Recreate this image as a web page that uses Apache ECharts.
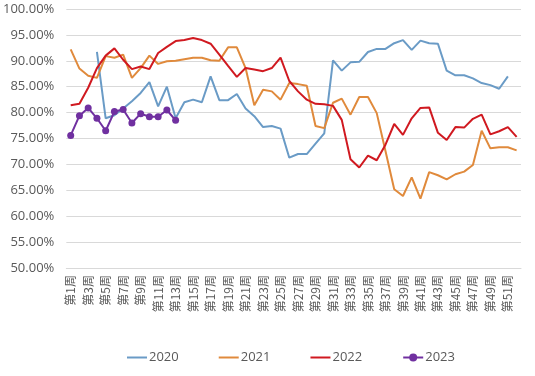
<!DOCTYPE html>
<html>
<head>
<meta charset="utf-8">
<script src="https://cdn.jsdelivr.net/npm/echarts@6/dist/echarts.min.js"></script>
<style>
  html, body { margin: 0; padding: 0; background: #fff; }
  #chart { width: 535px; height: 376px; }
</style>
</head>
<body>
<div id="chart"></div>
<script>
// 周次 第1周 ~ 第52周
const weeks = [];
for (let i = 1; i <= 52; i++) weeks.push('第' + i + '周');

const yTicks = [50, 55, 60, 65, 70, 75, 80, 85, 90, 95, 100];

const data2020 = [null, null, null, 91.7, 78.9, 79.5, 80.8, 82.2, 83.8, 85.9,
  81.2, 85.0, 78.9, 82.0, 82.5, 82.0, 87.0, 82.4, 82.4, 83.6,
  80.8, 79.3, 77.2, 77.4, 76.9, 71.3, 72.0, 72.0, 74.0, 76.0,
  90.1, 88.1, 89.7, 89.8, 91.7, 92.3, 92.3, 93.4, 94.0, 92.1,
  93.9, 93.4, 93.3, 88.1, 87.2, 87.2, 86.6, 85.7, 85.3, 84.6,
  87.0, null];

const data2021 = [92.2, 88.5, 87.1, 86.7, 90.9, 90.6, 91.2, 86.7, 88.6, 91.0,
  89.4, 89.9, 90.0, 90.3, 90.6, 90.6, 90.1, 90.0, 92.6, 92.6,
  88.6, 81.4, 84.4, 84.1, 82.5, 85.7, 85.5, 85.2, 77.4, 77.0,
  81.9, 82.7, 79.6, 83.0, 83.0, 79.9, 72.6, 65.2, 63.9, 67.5,
  63.4, 68.5, 67.9, 67.1, 68.1, 68.6, 69.9, 76.5, 73.1, 73.3,
  73.3, 72.7];

const data2022 = [81.4, 81.7, 84.8, 88.6, 91.0, 92.4, 90.2, 88.4, 88.9, 88.4,
  91.5, 92.7, 93.8, 94.0, 94.4, 94.0, 93.3, 91.2, 89.0, 86.9,
  88.6, 88.3, 88.0, 88.6, 90.6, 86.1, 84.1, 82.5, 81.7, 81.6,
  81.3, 78.6, 71.0, 69.4, 71.7, 70.8, 73.8, 77.8, 75.7, 78.9,
  80.9, 81.0, 76.1, 74.7, 77.2, 77.1, 78.8, 79.6, 75.8, 76.4,
  77.2, 75.3];

const data2023 = [75.6, 79.4, 80.9, 78.9, 76.5, 80.2, 80.6, 78.0, 79.8, 79.2,
  79.2, 80.5, 78.5];

const chart = echarts.init(document.getElementById('chart'));

const mkLine = (name, data, color, extra) => Object.assign({
  name: name,
  type: 'line',
  data: data,
  showSymbol: false,
  symbol: 'none',
  connectNulls: false,
  lineStyle: { width: 2, color: color },
  itemStyle: { color: color }
}, extra || {});

const lineIcon = 'path://M0,4 L20,4 L20,6 L0,6 Z';

chart.setOption({
  animation: false,
  textStyle: { fontFamily: '"Open Sans", "Noto Sans CJK SC", sans-serif' },
  grid: { left: 62, right: 14, top: 9, bottom: 108, containLabel: false },
  legend: {
    bottom: 7,
    left: 122,
    itemGap: 40,
    itemWidth: 20,
    itemHeight: 10,
    textStyle: { color: '#595959', fontSize: 13, padding: [0, 0, 0, -3] },
    data: [
      { name: '2020', icon: lineIcon },
      { name: '2021', icon: lineIcon },
      { name: '2022', icon: lineIcon },
      { name: '2023' }
    ]
  },
  xAxis: {
    type: 'category',
    data: weeks,
    boundaryGap: true,
    axisLine: { lineStyle: { color: '#D9D9D9' } },
    axisTick: { show: false },
    axisLabel: {
      rotate: 90,
      interval: 1,
      margin: 7,
      color: '#595959',
      fontSize: 12,
      fontFamily: '"Noto Sans CJK SC", sans-serif'
    }
  },
  yAxis: {
    type: 'value',
    min: yTicks[0],
    max: yTicks[yTicks.length - 1],
    interval: 5,
    axisLine: { show: false },
    axisTick: { show: false },
    axisLabel: {
      color: '#595959',
      fontSize: 13,
      margin: 12,
      formatter: (v) => v.toFixed(2) + '%'
    },
    splitLine: { lineStyle: { color: '#D9D9D9', width: 1 } }
  },
  series: [
    mkLine('2020', data2020, '#6A9BC6'),
    mkLine('2021', data2021, '#E08A3C'),
    mkLine('2022', data2022, '#D01920'),
    mkLine('2023', data2023, '#7030A0', {
      showSymbol: true,
      showAllSymbol: true,
      symbol: 'circle',
      symbolSize: 7
    })
  ]
});
</script>
</body>
</html>
